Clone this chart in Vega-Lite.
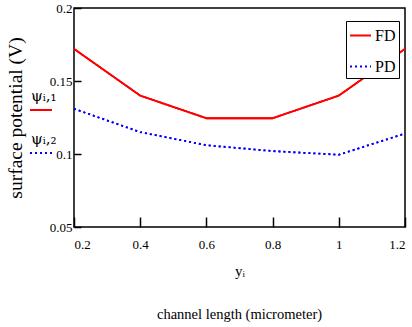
{
  "$schema": "https://vega.github.io/schema/vega-lite/v6.json",
  "width": 331,
  "height": 219,
  "autosize": "none",
  "padding": {"left": 74, "top": 8, "right": 7, "bottom": 100},
  "background": "white",
  "config": {
    "view": {"stroke": "black", "strokeWidth": 1.5},
    "font": "Liberation Serif"
  },
  "title": {
    "text": "channel length (micrometer)",
    "orient": "bottom",
    "fontSize": 14.5,
    "font": "Liberation Serif",
    "fontWeight": "normal",
    "color": "black",
    "offset": 30
  },
  "data": {
    "values": [
      {"x": 0.2, "value": 0.172, "series": "FD", "trace": "ψᵢ,₁"},
      {"x": 0.4, "value": 0.140, "series": "FD", "trace": "ψᵢ,₁"},
      {"x": 0.6, "value": 0.1245, "series": "FD", "trace": "ψᵢ,₁"},
      {"x": 0.8, "value": 0.1245, "series": "FD", "trace": "ψᵢ,₁"},
      {"x": 1.0, "value": 0.140, "series": "FD", "trace": "ψᵢ,₁"},
      {"x": 1.2, "value": 0.172, "series": "FD", "trace": "ψᵢ,₁"},
      {"x": 0.2, "value": 0.131, "series": "PD", "trace": "ψᵢ,₂"},
      {"x": 0.4, "value": 0.115, "series": "PD", "trace": "ψᵢ,₂"},
      {"x": 0.6, "value": 0.106, "series": "PD", "trace": "ψᵢ,₂"},
      {"x": 0.8, "value": 0.102, "series": "PD", "trace": "ψᵢ,₂"},
      {"x": 1.0, "value": 0.0995, "series": "PD", "trace": "ψᵢ,₂"},
      {"x": 1.2, "value": 0.114, "series": "PD", "trace": "ψᵢ,₂"}
    ]
  },
  "encoding": {
    "x": {
      "field": "x", "type": "quantitative",
      "scale": {"domain": [0.2, 1.2], "nice": false, "zero": false},
      "axis": {
        "values": [0.2, 0.4, 0.6, 0.8, 1.0, 1.2], "format": "~g",
        "title": "yᵢ", "titleFontSize": 15, "titleFont": "Liberation Serif", "titleFontWeight": "normal", "titleColor": "black", "titlePadding": 12,
        "grid": false, "domain": false, "tickSize": -10, "tickColor": "black", "tickWidth": 1.5,
        "labelFontSize": 13, "labelColor": "black", "labelPadding": 21, "labelFont": "Liberation Serif"
      }
    },
    "y": {
      "field": "value", "type": "quantitative",
      "scale": {"domain": [0.05, 0.2], "nice": false, "zero": false},
      "axis": {
        "values": [0.05, 0.1, 0.15, 0.2], "format": "~g",
        "title": "surface potential (V)", "titleFontSize": 19.5, "titleFont": "Liberation Serif", "titleFontWeight": "normal", "titleColor": "black",
        "titleX": -59, "titleBaseline": "middle",
        "grid": false, "domain": false, "tickSize": -7, "tickColor": "black", "tickWidth": 1.5,
        "labelFontSize": 13, "labelColor": "black", "labelPadding": 9, "labelFont": "Liberation Serif"
      }
    }
  },
  "layer": [
    {
      "mark": {"type": "line", "strokeWidth": 1.8},
      "encoding": {
        "color": {
          "field": "series", "type": "nominal",
          "scale": {"domain": ["FD", "PD"], "range": ["#ff0000", "#0000ff"]},
          "legend": {
            "title": null, "orient": "none", "legendX": 272, "legendY": 13,
            "strokeColor": "black", "fillColor": "white", "padding": 3,
            "symbolType": "stroke", "symbolSize": 441, "symbolStrokeWidth": 1.8,
            "labelFontSize": 16, "labelFont": "Liberation Serif", "labelColor": "black", "labelOffset": 3,
            "rowPadding": 11
          }
        },
        "strokeDash": {
          "field": "series", "type": "nominal",
          "scale": {"domain": ["FD", "PD"], "range": [[1, 0], [2, 3]]},
          "legend": {
            "title": null, "orient": "none", "legendX": 272, "legendY": 13,
            "strokeColor": "black", "fillColor": "white", "padding": 3,
            "symbolType": "stroke", "symbolSize": 441, "symbolStrokeWidth": 1.8,
            "labelFontSize": 16, "labelFont": "Liberation Serif", "labelColor": "black", "labelOffset": 3,
            "rowPadding": 11
          }
        }
      }
    },
    {
      "mark": {"type": "line", "strokeWidth": 1.8},
      "encoding": {
        "color": {
          "field": "trace", "type": "nominal",
          "scale": {"domain": ["ψᵢ,₁", "ψᵢ,₂"], "range": ["#ff0000", "#0000ff"]},
          "legend": {
            "title": null, "orient": "none", "legendX": -45, "legendY": 90,
            "padding": 0, "symbolType": "stroke", "symbolSize": 484, "symbolStrokeWidth": 1.8,
            "labelFontSize": 15, "labelFont": "DejaVu Serif", "labelColor": "black", "labelOffset": 4,
            "rowPadding": 18,
            "labelLimit": 60,
            "encode": {"labels": {"update": {"dx": {"value": -26}, "dy": {"value": -14}}}}
          }
        },
        "strokeDash": {
          "field": "trace", "type": "nominal",
          "scale": {"domain": ["ψᵢ,₁", "ψᵢ,₂"], "range": [[1, 0], [2, 3]]},
          "legend": {
            "title": null, "orient": "none", "legendX": -45, "legendY": 90,
            "padding": 0, "symbolType": "stroke", "symbolSize": 484, "symbolStrokeWidth": 1.8,
            "labelFontSize": 15, "labelFont": "DejaVu Serif", "labelColor": "black", "labelOffset": 4,
            "rowPadding": 18,
            "labelLimit": 60,
            "encode": {"labels": {"update": {"dx": {"value": -26}, "dy": {"value": -14}}}}
          }
        }
      }
    }
  ],
  "resolve": {
    "scale": {"color": "independent", "strokeDash": "independent"}
  }
}
